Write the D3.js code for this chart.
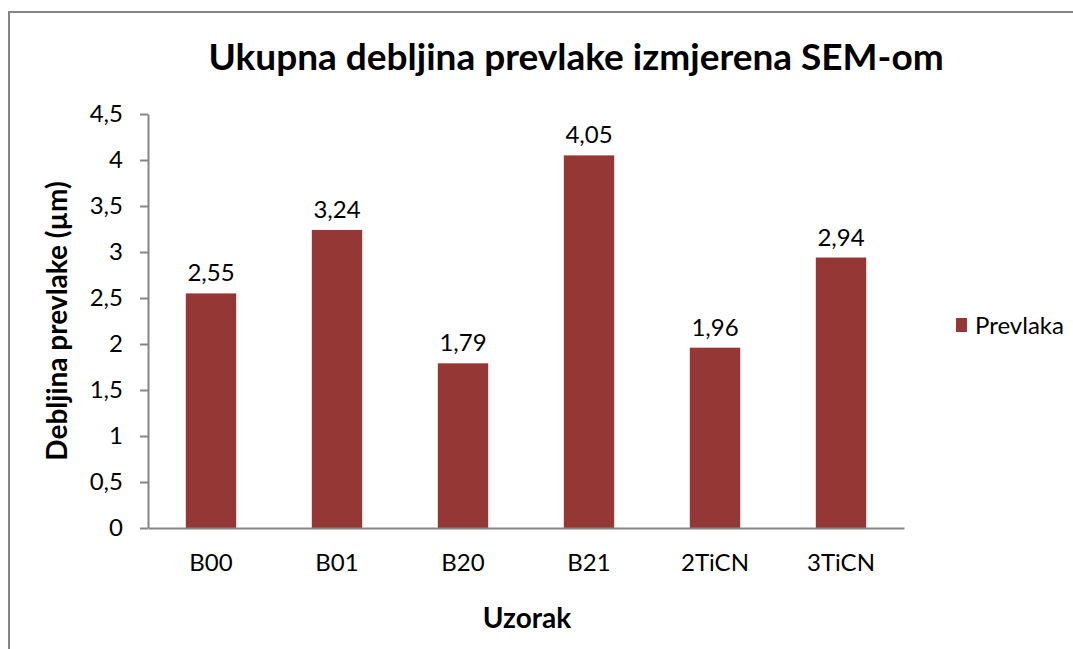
<!DOCTYPE html>
<html>
<head>
<meta charset="utf-8">
<script src="https://cdn.jsdelivr.net/npm/d3@7/dist/d3.min.js"></script>
<style>
  html, body { margin: 0; padding: 0; background: #fff; }
  svg { display: block; }
  text { font-family: Lato, "Open Sans", sans-serif; fill: #000; }
</style>
</head>
<body>
<div id="chart"></div>
<script>
// Coating thickness per sample, measured by SEM (µm)
const categories = ["B00", "B01", "B20", "B21", "2TiCN", "3TiCN"];
const values = [2.55, 3.24, 1.79, 4.05, 1.96, 2.94];
const yTicks = [0, 0.5, 1, 1.5, 2, 2.5, 3, 3.5, 4, 4.5];
const seriesName = "Prevlaka";
const titleText = "Ukupna debljina prevlake izmjerena SEM-om";
const xTitle = "Uzorak";
const yTitle = "Debljina prevlake (µm)";

const W = 1073, H = 649;
const plot = { left: 148, right: 904, top: 114, bottom: 528 };
const barColor = "#953735";
const axisColor = "#868686";
const labelSize = 24;

const fmt = v => String(v).replace(".", ",");

const svg = d3.select("#chart").append("svg")
  .attr("width", W).attr("height", H);

// Chart frame
svg.append("rect")
  .attr("x", 9).attr("y", 12)
  .attr("width", W + 20).attr("height", H + 20)
  .attr("fill", "none").attr("stroke", axisColor).attr("stroke-width", 2);

const x = d3.scaleBand()
  .domain(categories)
  .range([plot.left, plot.right])
  .paddingInner(0.6)
  .paddingOuter(0.3);

const y = d3.scaleLinear()
  .domain([0, 4.5])
  .range([plot.bottom, plot.top]);

// Bars
svg.append("g").selectAll("rect")
  .data(categories)
  .join("rect")
  .attr("x", d => x(d))
  .attr("y", (d, i) => y(values[i]))
  .attr("width", x.bandwidth())
  .attr("height", (d, i) => y(0) - y(values[i]))
  .attr("fill", barColor);

// Value labels
svg.append("g").selectAll("text")
  .data(categories)
  .join("text")
  .attr("x", d => x(d) + x.bandwidth() / 2)
  .attr("y", (d, i) => y(values[i]) - 12)
  .attr("text-anchor", "middle")
  .attr("font-size", labelSize)
  .text((d, i) => fmt(values[i]));

// Y axis
const yAxis = d3.axisLeft(y)
  .tickValues(yTicks)
  .tickFormat(fmt)
  .tickSize(8)
  .tickPadding(17)
  .tickSizeOuter(0);
const gy = svg.append("g")
  .attr("transform", `translate(${plot.left},0)`)
  .call(yAxis);
gy.select(".domain").attr("stroke", axisColor).attr("stroke-width", 2);
gy.selectAll(".tick line").attr("stroke", axisColor).attr("stroke-width", 2);
gy.selectAll(".tick text").attr("font-size", labelSize).attr("font-family", "Lato").attr("fill", "#000");

// X axis
const xAxis = d3.axisBottom(x).tickSize(0).tickPadding(26).tickSizeOuter(0);
const gx = svg.append("g")
  .attr("transform", `translate(0,${plot.bottom})`)
  .call(xAxis);
gx.select(".domain").attr("stroke", axisColor).attr("stroke-width", 2);
gx.selectAll(".tick text").attr("font-size", labelSize).attr("font-family", "Lato").attr("fill", "#000");

// Title
svg.append("text")
  .attr("x", 576).attr("y", 70)
  .attr("text-anchor", "middle")
  .attr("font-size", 37).attr("font-weight", "bold")
  .text(titleText);

// Axis titles
svg.append("text")
  .attr("x", 527).attr("y", 628)
  .attr("text-anchor", "middle")
  .attr("font-size", 28).attr("font-weight", "bold")
  .text(xTitle);

svg.append("text")
  .attr("transform", "translate(67,321) rotate(-90)")
  .attr("text-anchor", "middle")
  .attr("font-size", 28).attr("font-weight", "bold")
  .text(yTitle);

// Legend
const legend = svg.append("g").attr("transform", "translate(956,318)");
legend.append("rect")
  .attr("width", 11).attr("height", 14)
  .attr("fill", barColor);
legend.append("text")
  .attr("x", 19).attr("y", 16)
  .attr("font-size", labelSize)
  .text(seriesName);
</script>
</body>
</html>
